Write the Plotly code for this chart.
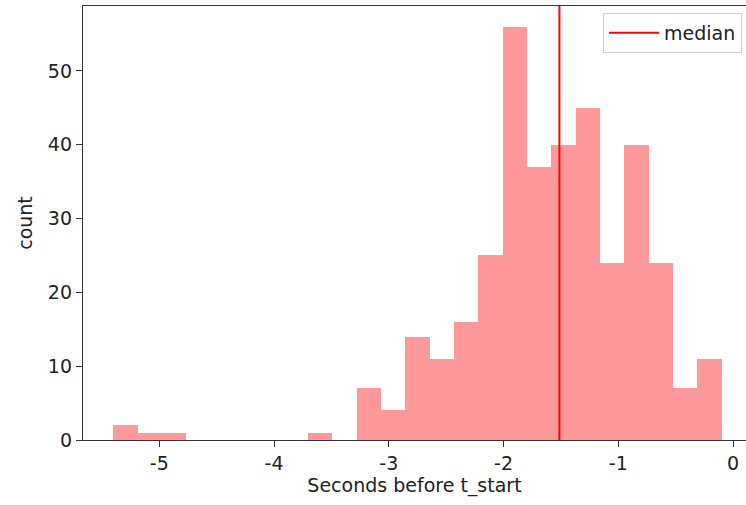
import plotly.graph_objects as go

# Histogram bin edges (seconds before t_start) and counts per bin
bin_edges = [-5.400, -5.188, -4.976, -4.764, -4.552, -4.340, -4.128, -3.916, -3.704,
             -3.492, -3.280, -3.068, -2.856, -2.644, -2.432, -2.220, -2.008, -1.796,
             -1.584, -1.372, -1.160, -0.948, -0.736, -0.524, -0.312, -0.100]
counts = [2, 1, 1, 0, 0, 0, 0, 0, 1, 0, 7, 4, 14, 11, 16, 25, 56, 37, 40, 45, 24, 40, 24, 7, 11]
median_value = -1.513

x_tickvals = [-5, -4, -3, -2, -1, 0]
x_ticktext = ["-5", "-4", "-3", "-2", "-1", "0"]
y_tickvals = [0, 10, 20, 30, 40, 50]

centers = [(a + b) / 2 for a, b in zip(bin_edges[:-1], bin_edges[1:])]
widths = [b - a for a, b in zip(bin_edges[:-1], bin_edges[1:])]

ymax = max(counts) * 1.05
span = bin_edges[-1] - bin_edges[0]
xmin = bin_edges[0] - 0.05 * span

FONT = "DejaVu Sans"
FS = 19

fig = go.Figure()
fig.add_trace(go.Bar(
    x=centers, y=counts, width=widths,
    marker=dict(color="rgba(255,0,0,0.4)", line=dict(width=0)),
    showlegend=False, hoverinfo="x+y",
))
fig.add_trace(go.Scatter(
    x=[median_value, median_value], y=[0, ymax],
    mode="lines", line=dict(color="#ff0000", width=2),
    name="median",
))

fig.update_layout(
    width=746, height=505,
    margin=dict(l=83, r=0, t=6, b=65),
    plot_bgcolor="white", paper_bgcolor="white",
    font=dict(family=FONT, size=FS, color="#222"),
    bargap=0,
    legend=dict(
        x=0.994, y=0.984, xanchor="right", yanchor="top",
        bordercolor="#d0d0d0", borderwidth=1, bgcolor="rgba(255,255,255,0.8)",
        font=dict(family=FONT, size=FS, color="#222"),
        itemwidth=50,
    ),
    xaxis=dict(
        range=[xmin, 0.113],
        tickvals=x_tickvals, ticktext=x_ticktext,
        ticks="outside", ticklen=6, tickwidth=1.3, tickcolor="#333",
        showline=True, linecolor="#333", linewidth=1.3, mirror=True,
        showgrid=False, zeroline=False,
        title=dict(text="Seconds before t_start", font=dict(family=FONT, size=FS), standoff=3),
        tickfont=dict(family=FONT, size=FS),
    ),
    yaxis=dict(
        range=[0, ymax],
        tickvals=y_tickvals,
        ticks="outside", ticklen=6, tickwidth=1.3, tickcolor="#333",
        showline=True, linecolor="#333", linewidth=1.3, mirror=False,
        showgrid=False, zeroline=False,
        title=dict(text="count", font=dict(family=FONT, size=FS), standoff=10),
        tickfont=dict(family=FONT, size=FS),
    ),
)

fig.write_html("out.html", config={"displayModeBar": False},
               post_script="document.body.style.margin='0';")
